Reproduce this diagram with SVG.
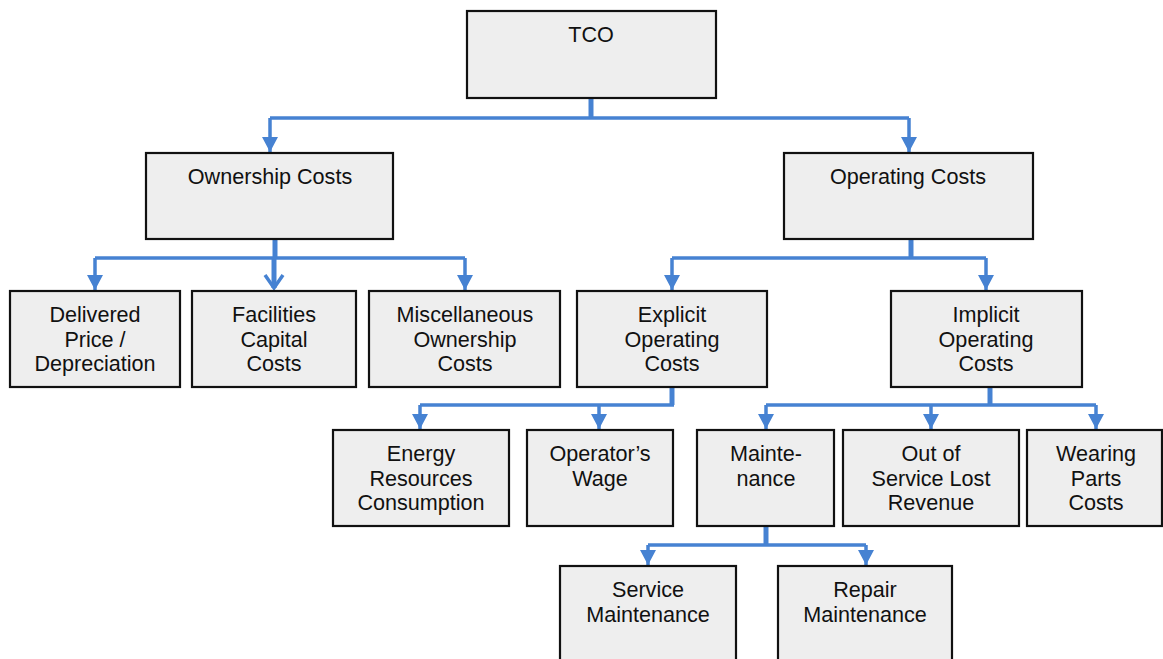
<svg xmlns="http://www.w3.org/2000/svg" width="1163" height="659" viewBox="0 0 1163 659">
<defs>
<style>
.box{fill:#eeeeee;stroke:#111;stroke-width:2.2}
.t{font-family:"Liberation Sans",Arial,sans-serif;font-size:21.6px;fill:#111;text-anchor:middle}
.c{fill:none;stroke:#4682d2;stroke-width:3.5;stroke-linejoin:miter}
.trunk{fill:none;stroke:#4682d2;stroke-width:5}
</style>
<marker id="ah" viewBox="0 0 15 16" refX="15" refY="8" markerWidth="15" markerHeight="16" markerUnits="userSpaceOnUse" orient="auto">
<path d="M0,0 L15,8 L0,16 Z" fill="#4682d2"/>
</marker>
</defs>
<rect width="1163" height="659" fill="#fff"/>
<g id="connectors">
<path class="trunk" d="M591,98 V118"/>
<path class="c" d="M270,118 H909"/>
<path class="c" d="M270,118 V152" marker-end="url(#ah)"/>
<path class="c" d="M909,118 V152" marker-end="url(#ah)"/>
<path class="trunk" d="M275,239 V258"/>
<path class="c" d="M95,258 H465"/>
<path class="c" d="M95,258 V290" marker-end="url(#ah)"/>
<path class="trunk" d="M274,258 V288"/>
<path class="c" d="M265,275 L274,288 L283,275" stroke-width="4"/>
<path class="c" d="M465,258 V290" marker-end="url(#ah)"/>
<path class="trunk" d="M911,239 V258"/>
<path class="c" d="M672,258 H986"/>
<path class="c" d="M672,258 V290" marker-end="url(#ah)"/>
<path class="c" d="M986,258 V290" marker-end="url(#ah)"/>
<path class="trunk" d="M672,387 V405"/>
<path class="c" d="M420,405 H674"/>
<path class="c" d="M420,405 V429" marker-end="url(#ah)"/>
<path class="c" d="M599,405 V429" marker-end="url(#ah)"/>
<path class="trunk" d="M990,387 V405"/>
<path class="c" d="M766,405 H1096"/>
<path class="c" d="M766,405 V429" marker-end="url(#ah)"/>
<path class="c" d="M931,405 V429" marker-end="url(#ah)"/>
<path class="c" d="M1096,405 V429" marker-end="url(#ah)"/>
<path class="trunk" d="M766,526 V545"/>
<path class="c" d="M648,545 H866"/>
<path class="c" d="M648,545 V565" marker-end="url(#ah)"/>
<path class="c" d="M866,545 V565" marker-end="url(#ah)"/>
</g>
<g id="tco"><rect class="box" x="467" y="11" width="249" height="87"/><text class="t" x="591" y="42">TCO</text></g>
<g id="ownership"><rect class="box" x="146" y="153" width="247" height="86"/><text class="t" x="270" y="184">Ownership Costs</text></g>
<g id="operating"><rect class="box" x="784" y="153" width="249" height="86"/><text class="t" x="908" y="184">Operating Costs</text></g>
<g id="delivered"><rect class="box" x="10" y="291" width="170" height="96"/><text class="t" x="95" y="322">Delivered<tspan x="95" dy="24.5">Price /</tspan><tspan x="95" dy="24.5">Depreciation</tspan></text></g>
<g id="facilities"><rect class="box" x="192" y="291" width="164" height="96"/><text class="t" x="274" y="322">Facilities<tspan x="274" dy="24.5">Capital</tspan><tspan x="274" dy="24.5">Costs</tspan></text></g>
<g id="misc"><rect class="box" x="369" y="291" width="191" height="96"/><text class="t" x="465" y="322">Miscellaneous<tspan x="465" dy="24.5">Ownership</tspan><tspan x="465" dy="24.5">Costs</tspan></text></g>
<g id="explicit"><rect class="box" x="577" y="291" width="190" height="96"/><text class="t" x="672" y="322">Explicit<tspan x="672" dy="24.5">Operating</tspan><tspan x="672" dy="24.5">Costs</tspan></text></g>
<g id="implicit"><rect class="box" x="891" y="291" width="191" height="96"/><text class="t" x="986" y="322">Implicit<tspan x="986" dy="24.5">Operating</tspan><tspan x="986" dy="24.5">Costs</tspan></text></g>
<g id="energy"><rect class="box" x="333" y="430" width="176" height="96"/><text class="t" x="421" y="461">Energy<tspan x="421" dy="24.5">Resources</tspan><tspan x="421" dy="24.5">Consumption</tspan></text></g>
<g id="operator"><rect class="box" x="527" y="430" width="146" height="96"/><text class="t" x="600" y="461">Operator’s<tspan x="600" dy="24.5">Wage</tspan></text></g>
<g id="maintenance"><rect class="box" x="697" y="430" width="137" height="96"/><text class="t" x="766" y="461">Mainte-<tspan x="766" dy="24.5">nance</tspan></text></g>
<g id="outofservice"><rect class="box" x="843" y="430" width="176" height="96"/><text class="t" x="931" y="461">Out of<tspan x="931" dy="24.5">Service Lost</tspan><tspan x="931" dy="24.5">Revenue</tspan></text></g>
<g id="wearing"><rect class="box" x="1027" y="430" width="135" height="96"/><text class="t" x="1096" y="461">Wearing<tspan x="1096" dy="24.5">Parts</tspan><tspan x="1096" dy="24.5">Costs</tspan></text></g>
<g id="service"><rect class="box" x="560" y="566" width="176" height="100"/><text class="t" x="648" y="597">Service<tspan x="648" dy="24.5">Maintenance</tspan></text></g>
<g id="repair"><rect class="box" x="778" y="566" width="174" height="100"/><text class="t" x="865" y="597">Repair<tspan x="865" dy="24.5">Maintenance</tspan></text></g>
</svg>
